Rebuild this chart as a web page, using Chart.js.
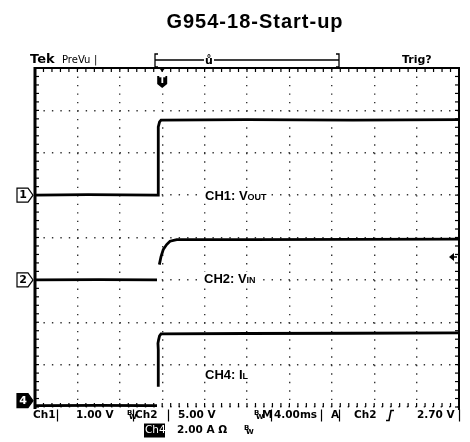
<!DOCTYPE html>
<html>
<head>
<meta charset="utf-8">
<script src="https://cdn.jsdelivr.net/npm/chart.js@4.4.0/dist/chart.umd.min.js"></script>
<style>
  html, body { margin: 0; padding: 0; background: #fff; }
  canvas { display: block; }
</style>
</head>
<body>
<canvas id="c" width="470" height="442"></canvas>
<script>
// ---------------- DATA ----------------
const chartTitle = "G954-18-Start-up";
// time in ms (4 ms/div, 10 divisions)
const ch1Time  = [0, 5, 11.5, 11.63, 11.63, 11.75, 11.89, 20, 30, 40];
const ch1Volts = [0, 0.01, 0, 0, 1.61, 1.73, 1.77, 1.78, 1.77, 1.78];

const ch2Time  = [0, 6, 11.51, 11.6, 11.73, 11.89, 12.10, 12.42, 12.74, 13.37, 20, 30, 40];
const ch2Volts = [0, 0.03, 0, null, 1.80, 2.75, 3.58, 4.17, 4.56, 4.76, 4.74, 4.78, 4.82];

const ch4Time  = [0, 6, 11.51, 11.6, 11.63, 11.63, 11.6, 11.66, 11.75, 11.89, 20, 30, 40];
const ch4Amps  = [0, 0.02, 0, null, 0.89, 2.64, 2.95, 3.11, 3.30, 3.39, 3.41, 3.42, 3.44];

// scope settings
const ch1VoltsPerDiv = 1.00, ch1Offset = 5;   // divisions from bottom
const ch2VoltsPerDiv = 5.00, ch2Offset = 3;
const ch4AmpsPerDiv  = 2.00, ch4Offset = 0.03;
const trigLevelVolts = 2.70;
const trigTimeMs = 12;

const toSeries = (t, v, off, scale) => t.map((x, i) => ({ x: x, y: v[i] == null ? null : off + v[i] / scale }));

// ---------------- OVERLAY PLUGIN ----------------
const overlay = {
  id: 'overlay',
  afterDatasetsDraw(chart) {
    const ctx = chart.ctx;
    const xs = chart.scales.x, ys = chart.scales.y;
    const L = xs.getPixelForValue(0), R = xs.getPixelForValue(40);
    const T = ys.getPixelForValue(8), B = ys.getPixelForValue(0);
    ctx.save();
    // frame
    ctx.strokeStyle = '#000';
    ctx.lineCap = 'butt';
    ctx.lineWidth = 3;
    ctx.beginPath(); ctx.moveTo(L, T - 1); ctx.lineTo(L, B + 2); ctx.stroke();
    ctx.lineWidth = 2;
    ctx.beginPath(); ctx.moveTo(L, T); ctx.lineTo(R + 1, T); ctx.stroke();
    ctx.beginPath(); ctx.moveTo(R, T); ctx.lineTo(R, B + 3); ctx.stroke();
    // minor ticks on frame
    ctx.lineWidth = 1.2;
    for (let t = 0; t <= 40.001; t += 0.8) {
      const px = xs.getPixelForValue(t);
      ctx.beginPath(); ctx.moveTo(px, T); ctx.lineTo(px, T + 4); ctx.stroke();
      ctx.beginPath(); ctx.moveTo(px, B); ctx.lineTo(px, B - 4); ctx.stroke();
    }
    for (let d = 0; d <= 8.001; d += 0.2) {
      const py = ys.getPixelForValue(d);
      ctx.beginPath(); ctx.moveTo(L, py); ctx.lineTo(L + 4, py); ctx.stroke();
      ctx.beginPath(); ctx.moveTo(R, py); ctx.lineTo(R - 4, py); ctx.stroke();
    }

    // title
    ctx.fillStyle = '#000';
    ctx.textBaseline = 'middle';
    ctx.textAlign = 'center';
    ctx.font = 'bold 20px "Liberation Sans", Arial, sans-serif';
    try { ctx.letterSpacing = '1px'; } catch (e) {}
    ctx.fillText(chartTitle, 255, 22);
    try { ctx.letterSpacing = '0px'; } catch (e) {}

    // top status line
    ctx.textAlign = 'left';
    ctx.font = 'bold 13px "DejaVu Sans", sans-serif';
    ctx.fillText('Tek', 30, 60);
    ctx.font = '10px "DejaVu Sans", sans-serif';
    ctx.fillText('PreVu', 62, 60);
    ctx.fillText('|', 94, 60);
    ctx.font = 'bold 11px "DejaVu Sans", sans-serif';
    ctx.fillText('Trig?', 402, 60);
    // record bracket
    ctx.lineWidth = 1.3;
    ctx.beginPath();
    ctx.moveTo(158, 54); ctx.lineTo(155, 54); ctx.lineTo(155, 67); ctx.lineTo(158, 67);
    ctx.moveTo(155, 60); ctx.lineTo(339, 60);
    ctx.moveTo(336, 54); ctx.lineTo(339, 54); ctx.lineTo(339, 67); ctx.lineTo(336, 67);
    ctx.stroke();
    ctx.textAlign = 'center';
    ctx.font = 'bold 11px "DejaVu Sans", sans-serif';
    ctx.fillStyle = '#fff';
    ctx.fillRect(204, 55, 10, 11);
    ctx.fillStyle = '#000';
    ctx.fillText('ů', 209, 61);

    // trigger position marker
    const tx = xs.getPixelForValue(trigTimeMs);
    ctx.beginPath(); ctx.moveTo(tx - 3, T); ctx.lineTo(tx + 3, T); ctx.lineTo(tx, T + 4); ctx.closePath(); ctx.fill();
    ctx.beginPath();
    ctx.moveTo(tx - 5, 76); ctx.lineTo(tx + 5, 76); ctx.lineTo(tx + 5, 84);
    ctx.lineTo(tx, 88); ctx.lineTo(tx - 5, 84); ctx.closePath(); ctx.fill();
    ctx.fillStyle = '#fff';
    ctx.font = 'bold 9px "DejaVu Sans", sans-serif';
    ctx.fillText('T', tx, 81);

    // channel ground markers
    function marker(label, dv, filled) {
      const py = ys.getPixelForValue(dv);
      ctx.beginPath();
      ctx.moveTo(17, py - 7); ctx.lineTo(28, py - 7); ctx.lineTo(33, py);
      ctx.lineTo(28, py + 7); ctx.lineTo(17, py + 7); ctx.closePath();
      ctx.fillStyle = filled ? '#000' : '#fff';
      ctx.fill();
      ctx.lineWidth = 1.2; ctx.strokeStyle = '#000'; ctx.stroke();
      ctx.fillStyle = filled ? '#fff' : '#000';
      ctx.font = 'bold 11px "DejaVu Sans", sans-serif';
      ctx.textAlign = 'center';
      ctx.fillText(label, 23, py + 0.5);
    }
    marker('1', ch1Offset, false);
    marker('2', ch2Offset, false);
    marker('4', ch4Offset + 0.12, true);

    // trigger level arrow
    const ly = ys.getPixelForValue(ch2Offset + trigLevelVolts / ch2VoltsPerDiv);
    ctx.fillStyle = '#000';
    ctx.beginPath(); ctx.moveTo(449, ly); ctx.lineTo(454, ly - 4); ctx.lineTo(454, ly + 4); ctx.closePath(); ctx.fill();
    ctx.lineWidth = 1.5; ctx.beginPath(); ctx.moveTo(452, ly); ctx.lineTo(457, ly); ctx.stroke();

    // channel labels
    function chanLabel(main, sub, px, py) {
      ctx.textAlign = 'left';
      ctx.font = 'bold 13px "Liberation Sans", Arial, sans-serif';
      const w1 = ctx.measureText(main).width;
      ctx.font = 'bold 9px "Liberation Sans", Arial, sans-serif';
      const w2 = ctx.measureText(sub).width;
      ctx.fillStyle = '#fff';
      ctx.fillRect(px - 1, py - 6, w1 + w2 + 2, 12);
      ctx.fillStyle = '#000';
      ctx.font = 'bold 13px "Liberation Sans", Arial, sans-serif';
      ctx.textBaseline = 'alphabetic';
      ctx.fillText(main, px, py + 5);
      ctx.font = 'bold 9px "Liberation Sans", Arial, sans-serif';
      ctx.fillText(sub, px + w1, py + 5);
      ctx.textBaseline = 'middle';
    }
    chanLabel('CH1: V', 'OUT', 205, 195);
    chanLabel('CH2: V', 'IN', 204, 278);
    chanLabel('CH4: I', 'L', 205, 374);

    // bottom readout
    ctx.fillStyle = '#000';
    ctx.textAlign = 'left';
    ctx.font = 'bold 10.5px "DejaVu Sans", sans-serif';
    const row1 = 415.5, row2 = 430.5;
    ctx.fillText('Ch1', 33, row1);
    ctx.fillText('1.00 V', 76, row1);
    ctx.fillText('Ch2', 135, row1);
    ctx.fillText('5.00 V', 178, row1);
    ctx.fillText('M', 262, row1);
    ctx.fillText('4.00ms', 274, row1);
    ctx.fillText('A', 331, row1);
    ctx.fillText('Ch2', 354, row1);
    ctx.fillText('2.70 V', 417, row1);
    ctx.fillText('2.00 A Ω', 177, row2);
    // separators
    ctx.lineWidth = 1.2;
    [57, 133, 168, 271, 321, 339, 459].forEach(x => { ctx.beginPath(); ctx.moveTo(x + 0.5, row1 - 6); ctx.lineTo(x + 0.5, row1 + 6); ctx.stroke(); });
    // bandwidth marks
    ctx.font = 'bold 7px "DejaVu Sans", sans-serif';
    [[127, row1], [254, row1], [244, row2]].forEach(p => { ctx.fillText('B', p[0], p[1] - 2); ctx.fillText('W', p[0] + 2, p[1] + 2); });
    // rising slope symbol
    ctx.lineWidth = 1.6;
    ctx.beginPath(); ctx.moveTo(386, row1 + 5); ctx.lineTo(389, row1 + 5); ctx.lineTo(391, row1 - 5); ctx.lineTo(394, row1 - 5); ctx.stroke();
    // inverted Ch4 box
    ctx.fillRect(144, row2 - 7, 21, 14);
    ctx.fillStyle = '#fff';
    ctx.font = '10.5px "DejaVu Sans", sans-serif';
    ctx.fillText('Ch4', 145, row2);
    ctx.restore();
  }
};

// ---------------- CHART ----------------
const traceStyle = { borderColor: '#000', borderWidth: 2.8, pointRadius: 0, tension: 0, spanGaps: false, fill: false };
const gridOpts = () => ({ color: '#333', lineWidth: 1.4, drawTicks: false });

new Chart(document.getElementById('c'), {
  type: 'line',
  data: {
    datasets: [
      Object.assign({ label: 'CH1: VOUT', data: toSeries(ch1Time, ch1Volts, ch1Offset, ch1VoltsPerDiv) }, traceStyle),
      Object.assign({ label: 'CH2: VIN',  data: toSeries(ch2Time, ch2Volts, ch2Offset, ch2VoltsPerDiv) }, traceStyle),
      Object.assign({ label: 'CH4: IL',   data: toSeries(ch4Time, ch4Amps,  ch4Offset, ch4AmpsPerDiv) }, traceStyle)
    ]
  },
  options: {
    responsive: false,
    animation: false,
    layout: { padding: { left: 35, right: 11, top: 68, bottom: 35 } },
    plugins: { legend: { display: false }, tooltip: { enabled: false }, title: { display: false } },
    scales: {
      x: { type: 'linear', min: 0, max: 40,
           ticks: { display: false, stepSize: 4 },
           grid: gridOpts(), border: { display: false, dash: [1.4, 7.08] } },
      y: { type: 'linear', min: 0, max: 8,
           ticks: { display: false, stepSize: 1 },
           grid: gridOpts(), border: { display: false, dash: [1.4, 7.05] } }
    }
  },
  plugins: [overlay]
});
</script>
</body>
</html>
